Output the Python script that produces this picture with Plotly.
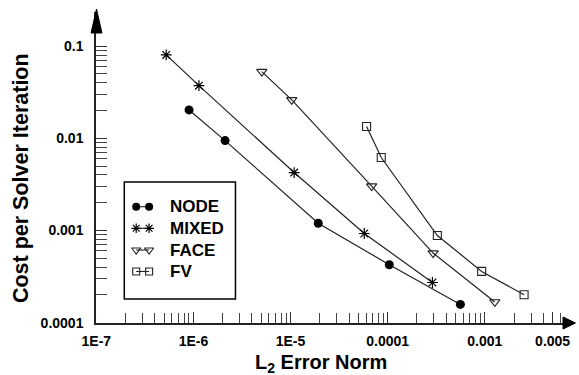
import plotly.graph_objects as go

# ---------------- data ----------------
node_x = [9.02e-7, 2.12e-6, 1.93e-5, 1.04e-4, 5.61e-4]
node_y = [0.0203, 0.00944, 0.00120, 4.25e-4, 1.58e-4]
mixed_x = [5.25e-7, 1.14e-6, 1.09e-5, 5.75e-5, 2.89e-4]
mixed_y = [0.0802, 0.0372, 0.00425, 9.28e-4, 2.73e-4]
face_x = [5.06e-6, 1.03e-5, 6.84e-5, 2.94e-4, 1.27e-3]
face_y = [0.0528, 0.0261, 0.00303, 5.69e-4, 1.68e-4]
fv_x = [6.07e-5, 8.59e-5, 3.25e-4, 9.29e-4, 2.54e-3]
fv_y = [0.0134, 0.00618, 8.83e-4, 3.60e-4, 2.01e-4]

series_names = ["NODE", "MIXED", "FACE", "FV"]
x_tick_vals = [1e-7, 1e-6, 1e-5, 1e-4, 1e-3, 5e-3]
x_tick_text = ["1E-7", "1E-6", "1E-5", "0.0001", "0.001", "0.005"]
y_tick_vals = [1e-4, 1e-3, 1e-2, 1e-1]
y_tick_text = ["0.0001", "0.001", "0.01", "0.1"]

# ---------------- layout geometry ----------------
W, H = 579, 375
L, R, T, B = 95.5, 9, 12, 52
PW, PH = W - L - R, H - T - B
X0_PX, X_DEC = 95.5, 97.9     # pixel of 1E-7, pixels per decade
Y0_PX, Y_DEC = 323.0, 92.3    # pixel of 1E-4, pixels per decade
x_range = [-7.003, -7 + (L + PW - X0_PX) / X_DEC]
y_range = [-4.003, -4 + (Y0_PX - T) / Y_DEC]

def fx(px):
    return (px - L) / PW

def fy(py):
    return (H - B - py) / PH

FONT = "Liberation Sans, Arial, Helvetica, sans-serif"
LINE = "#222222"

x_minor = [m * 10.0 ** e for e in range(-7, -2) for m in range(2, 10)] + [2e-3, 3e-3, 4e-3]
y_minor = [m * 10.0 ** e for e in range(-4, -1) for m in range(2, 10)]

styles = {
    "NODE": dict(symbol="circle", size=9, color="black", line=dict(width=0)),
    "MIXED": dict(symbol="asterisk-open", size=9, color="black", line=dict(width=1.2, color="black")),
    "FACE": dict(symbol="triangle-down-open", size=9, color="#222", line=dict(width=1.1, color="#222")),
    "FV": dict(symbol="square-open", size=8, color="#222", line=dict(width=1.1, color="#222")),
}

fig = go.Figure()
for name, xs, ys in zip(series_names, [node_x, mixed_x, face_x, fv_x], [node_y, mixed_y, face_y, fv_y]):
    fig.add_trace(go.Scatter(x=xs, y=ys, mode="lines+markers", name=name,
                             line=dict(color=LINE, width=1.2),
                             marker=styles[name], showlegend=False))

# ---------------- custom legend ----------------
leg_rows = [206.7, 228.3, 250.0, 271.5]
for name, py in zip(series_names, leg_rows):
    st = dict(styles[name])
    st["size"] = st["size"] - 1
    fig.add_trace(go.Scatter(x=[fx(136), fx(149)], y=[fy(py), fy(py)], mode="lines+markers",
                             xaxis="x2", yaxis="y2", line=dict(color=LINE, width=1.1),
                             marker=st, showlegend=False, hoverinfo="skip"))

annotations = []
for name, py in zip(series_names, leg_rows):
    annotations.append(dict(x=fx(168), y=fy(py), xref="paper", yref="paper", text="<b>%s</b>" % name,
                            showarrow=False, xanchor="left", yanchor="middle",
                            font=dict(family=FONT, size=17, color="black")))

annotations.append(dict(x=fx(20), y=fy(178), xref="paper", yref="paper",
                        text="<b>Cost per Solver Iteration</b>", textangle=-90, showarrow=False,
                        xanchor="center", yanchor="middle", font=dict(family=FONT, size=21.5, color="black")))
annotations.append(dict(x=fx(322), y=fy(363), xref="paper", yref="paper",
                        text="<b>L<sub>2</sub> Error Norm</b>", showarrow=False,
                        xanchor="center", yanchor="middle", font=dict(family=FONT, size=20, color="black")))

shapes = [
    # legend frame
    dict(type="rect", xref="paper", yref="paper", x0=fx(124), x1=fx(236), y0=fy(182), y1=fy(299),
         line=dict(color="black", width=1.5), fillcolor="rgba(0,0,0,0)"),
    # y-axis arrow
    dict(type="path", xref="paper", yref="paper",
         path="M %f %f L %f %f L %f %f Z" % (fx(90.5), fy(33), fx(96), fy(9), fx(101.5), fy(33)),
         fillcolor="black", line=dict(color="black", width=1)),
    # x-axis arrow
    dict(type="path", xref="paper", yref="paper",
         path="M %f %f L %f %f L %f %f Z" % (fx(566), fy(317), fx(578.5), fy(323), fx(566), fy(329)),
         fillcolor="black", line=dict(color="black", width=1)),
]

axis_common = dict(showgrid=False, zeroline=False, showline=True, linecolor=LINE, linewidth=1.5,
                   ticks="inside", ticklen=11, tickcolor="#333", tickwidth=1,
                   tickfont=dict(family=FONT, size=14, color="black", weight="bold"))

fig.update_layout(
    width=W, height=H, margin=dict(l=L, r=R, t=T, b=B),
    paper_bgcolor="white", plot_bgcolor="white",
    xaxis=dict(type="log", range=x_range, tickmode="array", tickvals=x_tick_vals, ticktext=x_tick_text,
               minor=dict(tickmode="array", tickvals=x_minor, ticks="inside", ticklen=10,
                          tickcolor="#444", tickwidth=1, showgrid=False),
               mirror=False, ticklabelstandoff=4, **axis_common),
    yaxis=dict(type="log", range=y_range, tickmode="array", tickvals=y_tick_vals, ticktext=y_tick_text,
               minor=dict(tickmode="array", tickvals=y_minor, ticks="inside", ticklen=11,
                          tickcolor="#444", tickwidth=1, showgrid=False),
               mirror=False, ticklabelstandoff=8, **axis_common),
    xaxis2=dict(overlaying="x", range=[0, 1], visible=False, fixedrange=True),
    yaxis2=dict(overlaying="y", range=[0, 1], visible=False, fixedrange=True),
    annotations=annotations, shapes=shapes, showlegend=False,
)

fig.write_html("out.html")
